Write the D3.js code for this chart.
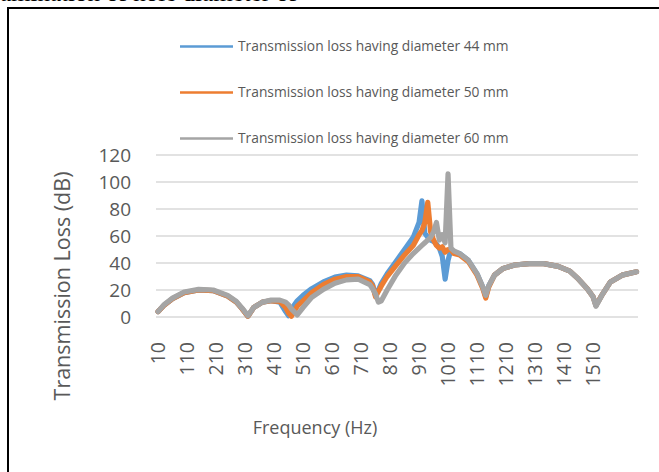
<!DOCTYPE html>
<html>
<head>
<meta charset="utf-8">
<script src="https://cdn.jsdelivr.net/npm/d3@7"></script>
<style>
  body { margin: 0; background: #fff; }
  text { font-family: "Open Sans", sans-serif; fill: #595959; }
</style>
</head>
<body>
<div id="chart"></div>
<script>
// frequency (Hz) sampled along the curves
const freq = [10, 30, 60, 100, 150, 200, 250, 280, 300, 320,
  340, 370, 400, 430, 450, 460, 470, 490, 510, 540,
  580, 620, 660, 700, 740, 750, 760, 770, 780, 800,
  830, 860, 890, 910, 920, 930, 940, 950, 960, 970,
  980, 990, 1000, 1010, 1020, 1030, 1050, 1080, 1110, 1130,
  1140, 1150, 1170, 1200, 1240, 1290, 1340, 1390, 1430, 1460,
  1490, 1510, 1520, 1540, 1570, 1610, 1660];

// transmission loss (dB), diameter 44 mm
const tl44 = [4, 8.5, 13.5, 18, 20, 19.5, 15.5, 11, 6, 0.5,
  7, 11, 12, 11, 4, 1, 6, 12, 16, 21,
  26, 29.5, 31, 30.5, 27, 24, 16, 20, 25, 32,
  41, 50, 59, 70, 86, 62, 59, 57, 56, 54,
  51, 45, 28, 42, 50, 48, 47, 42, 32, 22,
  15, 23, 31, 36, 38.5, 39.5, 39.5, 37.5, 34, 28,
  21, 15, 8.5, 16, 26, 31, 33.5];

// diameter 50 mm
const tl50 = [4, 8.5, 13.5, 18, 20, 19.5, 15.5, 11, 6, 0.5,
  7, 11, 12, 11.5, 7, 3, 0.5, 8, 12, 18,
  24, 28, 30, 30, 26, 23, 15, 19, 23, 30,
  38, 46, 53, 61, 64, 70, 85, 63, 57, 53,
  51, 52, 48, 50, 50, 47, 46, 41, 31, 21,
  14, 22, 31, 36, 38.5, 39.5, 39.5, 37.5, 34, 28,
  21, 15, 8.5, 16, 26, 31, 33.5];

// diameter 60 mm
const tl60 = [4, 9, 14, 18.5, 20.5, 20, 16, 11.5, 6.5, 1,
  7, 11, 12.5, 12.5, 11, 9, 6, 1.5, 7, 14.5,
  20.5, 25, 27.5, 28, 24, 21, 17, 11, 12, 20,
  31, 40, 47, 51, 53, 55, 57, 59, 63, 70,
  57, 61, 55, 106, 51, 49, 47, 42, 32, 22,
  16, 23, 31, 36, 38.5, 39.5, 39.5, 37.5, 34, 28,
  21, 15, 8, 16, 26, 31, 33.5];

const seriesNames = ["Transmission loss having diameter 44 mm",
  "Transmission loss having diameter 50 mm",
  "Transmission loss having diameter 60 mm"];
const seriesColors = ["#5B9BD5", "#ED7D31", "#A5A5A5"];
const xTicks = [10, 110, 210, 310, 410, 510, 610, 710, 810, 910, 1010, 1110, 1210, 1310, 1410, 1510];
const yTicks = [0, 20, 40, 60, 80, 100, 120];

const width = 659, height = 472;

const svg = d3.select("#chart")
  .append("svg")
    .attr("width", width)
    .attr("height", height);

// cut off line of the page text above the figure
svg.append("text")
  .attr("x", 0)
  .attr("y", 1)
  .style("font-family", "'Liberation Serif', serif")
  .style("font-size", "25px")
  .style("fill", "#000")
  .text("amination of hole diameter of");

// frame around the figure
svg.append("rect")
  .attr("x", 8).attr("y", 8)
  .attr("width", 700).attr("height", 500)
  .attr("fill", "none")
  .attr("stroke", "#000")
  .attr("stroke-width", 2);

// scales
const x = d3.scaleLinear().domain([3, 1665]).range([156, 638]);
const y = d3.scaleLinear().domain([0, 120]).range([317, 155]);

// gridlines
svg.append("g")
  .selectAll("line")
  .data(yTicks)
  .join("line")
    .attr("x1", 156).attr("x2", 638)
    .attr("y1", d => y(d)).attr("y2", d => y(d))
    .attr("stroke", "#D9D9D9")
    .attr("stroke-width", 1.3);

// y axis labels
svg.append("g")
  .selectAll("text")
  .data(yTicks)
  .join("text")
    .attr("x", 131)
    .attr("y", d => y(d))
    .attr("dy", "0.36em")
    .attr("text-anchor", "end")
    .style("font-size", "19px")
    .text(d => d);

// x axis labels (rotated)
svg.append("g")
  .selectAll("text")
  .data(xTicks)
  .join("text")
    .attr("transform", d => `translate(${x(d)},342) rotate(-90)`)
    .attr("dy", "0.36em")
    .attr("text-anchor", "end")
    .style("font-size", "19.5px")
    .text(d => d);

// axis titles
svg.append("text")
  .attr("transform", "translate(62,286) rotate(-90)")
  .attr("text-anchor", "middle")
  .attr("dy", "0.36em")
  .style("font-size", "21.5px")
  .text("Transmission Loss (dB)");

svg.append("text")
  .attr("x", 315)
  .attr("y", 428)
  .attr("text-anchor", "middle")
  .attr("dy", "0.36em")
  .style("font-size", "18px")
  .text("Frequency (Hz)");

// lines
const line = d3.line()
  .x((d, i) => x(freq[i]))
  .y(d => y(d));

[tl44, tl50, tl60].forEach((values, i) => {
  svg.append("path")
    .datum(values)
    .attr("fill", "none")
    .attr("stroke", seriesColors[i])
    .attr("stroke-width", 5.2)
    .attr("stroke-linejoin", "round")
    .attr("stroke-linecap", "round")
    .attr("d", line);
});

// legend
const legend = svg.append("g")
  .selectAll("g")
  .data(seriesNames)
  .join("g")
    .attr("transform", (d, i) => `translate(180,${46.5 + i * 46})`);

legend.append("line")
  .attr("x1", 0).attr("x2", 53)
  .attr("stroke", (d, i) => seriesColors[i])
  .attr("stroke-width", 2.5);

legend.append("text")
  .attr("x", 58)
  .attr("dy", "0.36em")
  .style("font-size", "13.8px")
  .text(d => d);
</script>
</body>
</html>
